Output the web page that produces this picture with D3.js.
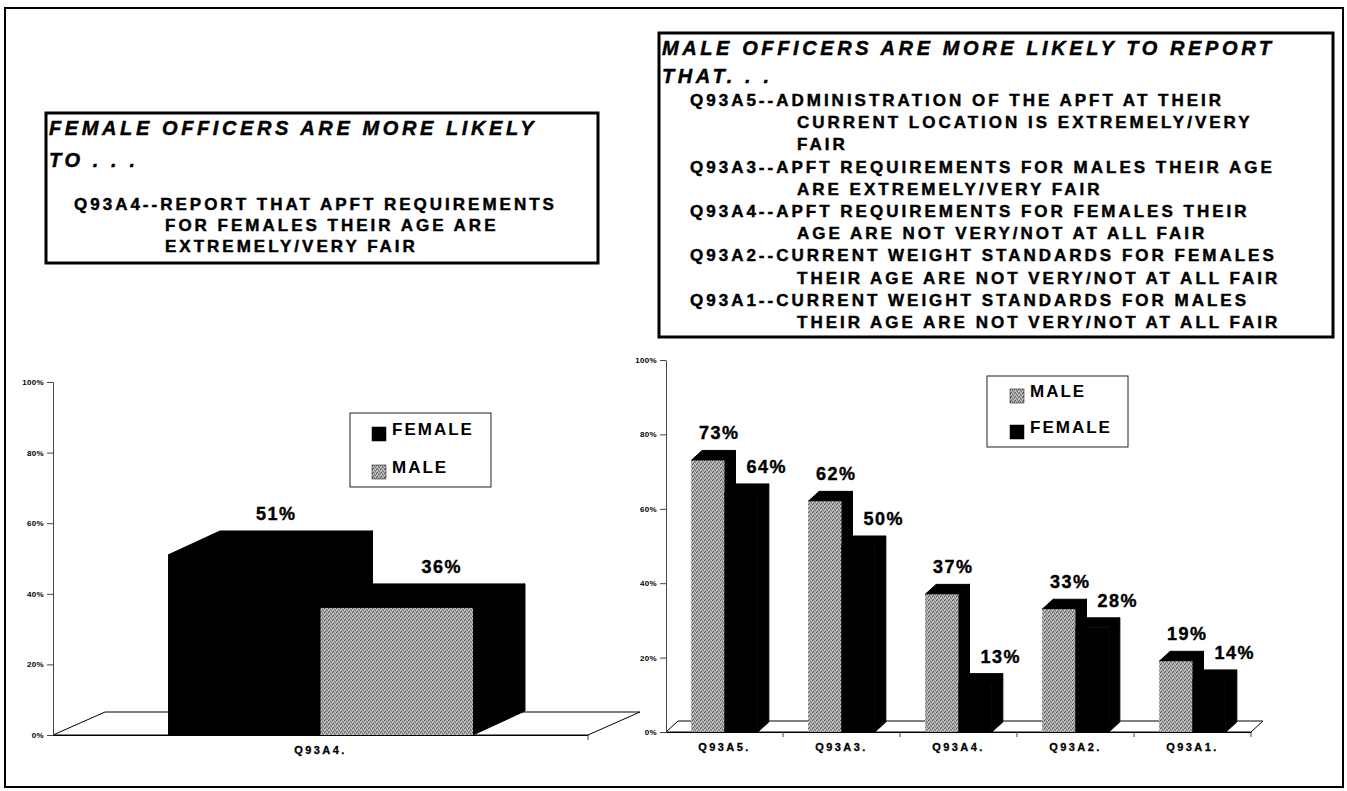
<!DOCTYPE html>
<meta charset="utf-8">
<head>
<style>
body {
  margin: 0;
  background: #fff;
}
svg text {
  font-family: "Liberation Sans", Arial, sans-serif;
  font-weight: bold;
  fill: #000;
}
.yAxis text {
  font-size: 8px;
  letter-spacing: 0.3px;
}
.yAxis path,
.yAxis line,
.xAxis line {
  stroke: #444;
  stroke-width: 1px;
}
.xAxis text {
  font-size: 11px;
  letter-spacing: 2.4px;
  stroke: #000;
  stroke-width: 0.3px;
}
.note {
  font-size: 17px;
  letter-spacing: 3px;
  stroke: #000;
  stroke-width: 0.45px;
}
.head {
  font-size: 20px;
  font-style: italic;
  letter-spacing: 3.6px;
  stroke: #000;
  stroke-width: 0.45px;
}
.val {
  font-size: 18px;
  letter-spacing: 1.5px;
  stroke: #000;
  stroke-width: 0.4px;
}
.leg {
  font-size: 17px;
  letter-spacing: 2px;
}
</style>
<script src="https://d3js.org/d3.v7.min.js"></script>
</head>
<body>
<div id="chart"></div>

<script>

// ---- data ----
var leftCats = ["Q93A4."];
var leftSeries = ["FEMALE", "MALE"];
var leftValues = [[51, 36]];

var rightCats = ["Q93A5.", "Q93A3.", "Q93A4.", "Q93A2.", "Q93A1."];
var rightSeries = ["MALE", "FEMALE"];
var rightValues = [[73, 64], [62, 50], [37, 13], [33, 28], [19, 14]];

var yTicks = [0, 20, 40, 60, 80, 100];

var leftTitle = ["FEMALE OFFICERS ARE MORE LIKELY", "TO . . ."];
var leftNotes = [
  {code: "Q93A4", lines: ["REPORT THAT APFT REQUIREMENTS", "FOR FEMALES THEIR AGE ARE", "EXTREMELY/VERY FAIR"]}
];

var rightTitle = ["MALE OFFICERS ARE MORE LIKELY TO  REPORT", "THAT. . ."];
var rightNotes = [
  {code: "Q93A5", lines: ["ADMINISTRATION OF THE APFT AT THEIR", "CURRENT LOCATION IS EXTREMELY/VERY", "FAIR"]},
  {code: "Q93A3", lines: ["APFT REQUIREMENTS FOR MALES THEIR AGE", "ARE EXTREMELY/VERY FAIR"]},
  {code: "Q93A4", lines: ["APFT REQUIREMENTS FOR FEMALES THEIR", "AGE ARE NOT VERY/NOT AT ALL FAIR"]},
  {code: "Q93A2", lines: ["CURRENT WEIGHT STANDARDS FOR FEMALES", "THEIR AGE ARE NOT VERY/NOT AT ALL FAIR"]},
  {code: "Q93A1", lines: ["CURRENT WEIGHT STANDARDS FOR MALES", "THEIR AGE ARE NOT VERY/NOT AT ALL FAIR"]}
];


var svg = d3.select("#chart").append("svg")
  .attr("width", 1347)
  .attr("height", 791);

//// speckled grey used for the MALE front faces
var pat = svg.append("defs").append("pattern")
  .attr("id", "grain")
  .attr("width", 4)
  .attr("height", 4)
  .attr("patternUnits", "userSpaceOnUse");
pat.append("rect").attr("width", 4).attr("height", 4).attr("fill", "#a4a4a4");
[[0, 0, "#555"], [2, 1, "#6a6a6a"], [1, 3, "#5e5e5e"], [3, 2, "#777"],
 [1, 1, "#d4d4d4"], [3, 0, "#cacaca"], [0, 2, "#d0d0d0"], [2, 3, "#bbb"]].forEach(function(p) {
  pat.append("rect").attr("x", p[0]).attr("y", p[1]).attr("width", 1).attr("height", 1).attr("fill", p[2]);
});

var fillFor = {FEMALE: "#000", MALE: "url(#grain)"};

//// outer frame
svg.append("rect")
  .attr("x", 5).attr("y", 8)
  .attr("width", 1338).attr("height", 779)
  .attr("fill", "none")
  .attr("stroke", "#000")
  .attr("stroke-width", 2);


////Text boxes
function noteBox(b, title, notes) {
  var g = svg.append("g");
  g.append("rect")
    .attr("x", b.x).attr("y", b.y)
    .attr("width", b.w).attr("height", b.h)
    .attr("fill", "#fff")
    .attr("stroke", "#000")
    .attr("stroke-width", 3);

  g.selectAll(".head")
    .data(title)
    .enter()
    .append("text")
      .attr("class", "head")
      .attr("x", b.x + 3)
      .attr("y", function(d, i) { return b.y + b.titleTop + i * b.titleGap; })
      .text(function(d) { return d; });

  var rows = [];
  notes.forEach(function(n) {
    n.lines.forEach(function(l, i) {
      rows.push({first: i == 0, text: i == 0 ? n.code + "--" + l : l});
    });
  });
  g.selectAll(".note")
    .data(rows)
    .enter()
    .append("text")
      .attr("class", "note")
      .attr("x", function(d) { return d.first ? b.codeX : b.indentX; })
      .attr("y", function(d, i) { return b.y + b.noteTop + i * b.noteGap; })
      .text(function(d) { return d.text; });
}

noteBox({x: 46, y: 113, w: 552, h: 150, titleTop: 22, titleGap: 32, noteTop: 97, noteGap: 21, codeX: 74, indentX: 165},
  leftTitle, leftNotes);
noteBox({x: 659, y: 33, w: 674, h: 304, titleTop: 22, titleGap: 28, noteTop: 73, noteGap: 22.2, codeX: 690, indentX: 797},
  rightTitle, rightNotes);


////3D-ish grouped bars
function barChart(c) {
  var g = svg.append("g");

  var x = d3.scaleBand()
    .domain(c.cats)
    .range([c.left, c.right])
    .paddingInner(0.43)
    .paddingOuter(0.215);
  var xs = d3.scaleBand()
    .domain(c.series)
    .range([0, x.bandwidth()]);
  var y = d3.scaleLinear()
    .domain([0, 100])
    .range([c.bottom, c.top]);
  var y0 = y(0);

  // floor
  g.append("path")
    .attr("d", d3.line()([[c.left, y0], [c.left + c.fdx, y0 + c.fdy], [c.right + c.fdx, y0 + c.fdy], [c.right, y0]]) + "Z")
    .attr("fill", "#fff")
    .attr("stroke", "#000")
    .attr("stroke-width", 1);

  g.append("g")
    .attr("class", "yAxis")
    .attr("transform", "translate(" + c.left + ",0)")
    .call(d3.axisLeft(y).tickValues(yTicks).tickFormat(function(d) { return d + "%"; }).tickSize(6).tickSizeOuter(0).tickPadding(3));

  var xa = g.append("g")
    .attr("class", "xAxis")
    .attr("transform", "translate(0," + y0 + ")")
    .call(d3.axisBottom(x).tickSize(0).tickPadding(11));
  xa.select(".domain").attr("stroke", "#000");
  xa.selectAll(".edge")
    .data(c.cats)
    .enter()
    .append("line")
      .attr("x1", function(d) { return x(d) + x.bandwidth() + x.step() * x.paddingOuter(); })
      .attr("x2", function(d) { return x(d) + x.bandwidth() + x.step() * x.paddingOuter(); })
      .attr("y1", 0)
      .attr("y2", 5);

  // bars, left to right so the right one covers the side of the left
  var bars = [];
  c.cats.forEach(function(cat, i) {
    c.series.forEach(function(s, j) {
      bars.push({cat: cat, name: s, k: j, value: c.values[i][j]});
    });
  });

  var dx = c.dx, dy = c.dy, w = xs.bandwidth();
  var bg = g.selectAll(".bar")
    .data(bars)
    .enter()
    .append("g")
      .attr("class", "bar");
  bg.append("path")
    .attr("d", function(d) {
      var a = x(d.cat) + xs(d.name), t = y(d.value);
      return d3.line()([[a + w, t], [a + w + dx, t + dy], [a + w + dx, y0 + dy], [a + w, y0]]) + "Z";
    })
    .attr("fill", "#000")
    .attr("stroke", "#000")
    .attr("stroke-width", 1);
  bg.append("path")
    .attr("d", function(d) {
      var a = x(d.cat) + xs(d.name), t = y(d.value);
      return d3.line()([[a, t], [a + dx, t + dy], [a + w + dx, t + dy], [a + w, t]]) + "Z";
    })
    .attr("fill", "#000")
    .attr("stroke", "#000")
    .attr("stroke-width", 1);
  bg.append("rect")
    .attr("x", function(d) { return x(d.cat) + xs(d.name); })
    .attr("y", function(d) { return y(d.value); })
    .attr("width", w)
    .attr("height", function(d) { return y0 - y(d.value); })
    .attr("fill", function(d) { return fillFor[d.name]; });

  g.selectAll(".val")
    .data(bars)
    .enter()
    .append("text")
      .attr("class", "val")
      .attr("text-anchor", "middle")
      .attr("x", function(d) { return x(d.cat) + xs(d.name) + w / 2 + dx / 2 + c.labelDx[d.k]; })
      .attr("y", function(d) { return y(d.value) + dy / 2 - c.labelDy; })
      .text(function(d) { return d.value + "%"; });

  // legend
  var L = c.legend;
  var lg = g.append("g").attr("transform", "translate(" + L.x + "," + L.y + ")");
  lg.append("rect")
    .attr("width", L.w)
    .attr("height", L.h)
    .attr("fill", "#fff")
    .attr("stroke", "#222")
    .attr("stroke-width", 1);
  var item = lg.selectAll(".item")
    .data(c.series)
    .enter()
    .append("g")
      .attr("transform", function(d, i) { return "translate(" + L.sx + "," + (L.sy + i * L.step) + ")"; });
  item.append("rect")
    .attr("width", 14)
    .attr("height", 14)
    .attr("fill", function(d) { return fillFor[d]; })
    .attr("stroke", "#000")
    .attr("stroke-width", 0.5);
  item.append("text")
    .attr("class", "leg")
    .attr("x", 20)
    .attr("y", 8)
    .text(function(d) { return d; });
}

barChart({
  cats: leftCats, series: leftSeries, values: leftValues,
  left: 53, right: 588, bottom: 735, top: 382,
  dx: 52, dy: -24, fdx: 52, fdy: -23,
  labelDx: [6, 19], labelDy: 23,
  legend: {x: 350, y: 413, w: 141, h: 74, sx: 22, sy: 14, step: 38}
});

barChart({
  cats: rightCats, series: rightSeries, values: rightValues,
  left: 666, right: 1251, bottom: 732, top: 360,
  dx: 11, dy: -10, fdx: 12, fdy: -11,
  labelDx: [6, 20], labelDy: 16,
  legend: {x: 987, y: 376, w: 141, h: 71, sx: 23, sy: 13, step: 36}
});

</script>
</body>
</html>
